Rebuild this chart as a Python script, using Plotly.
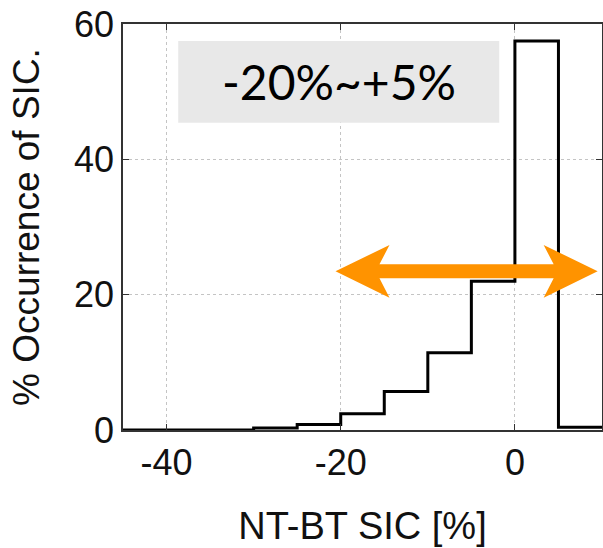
import plotly.graph_objects as go

# Histogram data (bin edges in %, occurrence in %)
bin_edges = [-45, -40, -35, -30, -25, -20, -15, -10, -5, 0, 5, 10]
occurrence = [0.0, 0.0, 0.0, 0.3, 0.8, 2.4, 5.7, 11.4, 22.0, 57.5, 0.4]

x_ticks = [-40, -20, 0]
y_ticks = [0, 20, 40, 60]

box_text = "-20%~+5%"
arrow_left, arrow_right, arrow_y = -20.6, 9.5, 23.45

fig = go.Figure()
fig.add_trace(go.Scatter(
    x=bin_edges,
    y=occurrence + [occurrence[-1]],
    mode="lines",
    line=dict(color="black", width=3, shape="hv"),
    showlegend=False,
    hoverinfo="skip",
    cliponaxis=False,
))

# orange double arrow
hl, nl, hh, sh = 6.2, 5.05, 3.9, 1.03
path = (
    f"M{arrow_left},{arrow_y} "
    f"L{arrow_left+hl},{arrow_y+hh} L{arrow_left+nl},{arrow_y+sh} "
    f"L{arrow_right-nl},{arrow_y+sh} L{arrow_right-hl},{arrow_y+hh} "
    f"L{arrow_right},{arrow_y} "
    f"L{arrow_right-hl},{arrow_y-hh} L{arrow_right-nl},{arrow_y-sh} "
    f"L{arrow_left+nl},{arrow_y-sh} L{arrow_left+hl},{arrow_y-hh} Z"
)
fig.add_shape(type="path", path=path, xref="x", yref="y",
              fillcolor="#FF9300", line=dict(width=0), layer="above")

# gray label box
fig.add_shape(type="rect", xref="x", yref="y", x0=-38.66, x1=-1.8, y0=45.4, y1=57.5,
              fillcolor="#e8e8e8", line=dict(width=0), layer="above")
fig.add_annotation(x=-20.23, y=51.45, xref="x", yref="y", text=box_text, showarrow=False,
                   font=dict(family="Lato", size=48, color="black"))

axis_common = dict(
    showline=True, linecolor="#333333", linewidth=1.5, mirror="ticks",
    ticks="inside", ticklen=6, tickwidth=1.2, tickcolor="#333333",
    showgrid=True, gridcolor="#c4c4c4", griddash="dot", gridwidth=1,
    zeroline=False, automargin=False,
    tickfont=dict(family="Liberation Sans", size=36, color="#111111"),
)

fig.update_xaxes(range=[-45, 10], tickvals=x_ticks, ticktext=[str(v) for v in x_ticks],
                 title=dict(text="NT-BT SIC [%]", font=dict(family="Liberation Sans", size=38, color="#111111"), standoff=30),
                 **axis_common)
fig.update_yaxes(range=[0, 60], tickvals=y_ticks, ticktext=[str(v) for v in y_ticks],
                 title=dict(text="% Occurrence of SIC.", font=dict(family="Liberation Sans", size=37, color="#111111"), standoff=23),
                 **axis_common)

fig.update_layout(
    width=603, height=548,
    margin=dict(l=123, r=1, t=24, b=118),
    plot_bgcolor="white", paper_bgcolor="white",
    showlegend=False,
)

fig.write_html("out.html", config={"displayModeBar": False},
               post_script="document.body.style.margin='0';")
